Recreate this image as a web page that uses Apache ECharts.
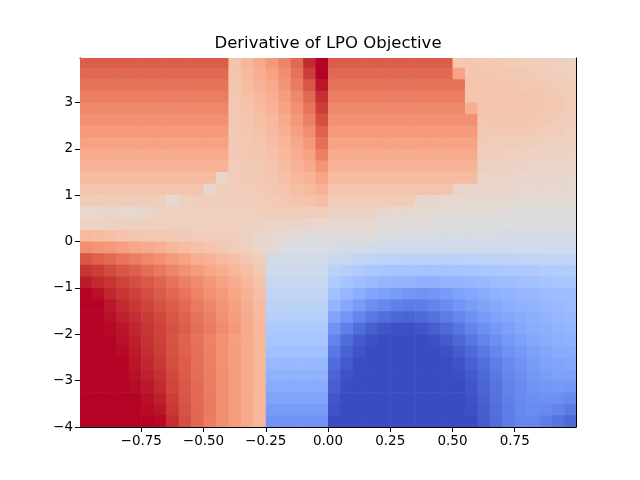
<!DOCTYPE html>
<html>
<head>
<meta charset="utf-8">
<script src="https://cdn.jsdelivr.net/npm/echarts@6/dist/echarts.min.js"></script>
<style>
  html, body { margin: 0; padding: 0; background: #fff; }
  #chart { width: 640px; height: 480px; }
</style>
</head>
<body>
<div id="chart"></div>
<script>
// cell edges of the sampled grid (x left->right, y top->bottom)
var xEdges = [-1, -0.95, -0.9, -0.85, -0.8, -0.75, -0.7, -0.65, -0.6, -0.55, -0.5,
              -0.45, -0.4, -0.35, -0.3, -0.25, -0.2, -0.15, -0.1, -0.05, 0,
              0.05, 0.1, 0.15, 0.2, 0.25, 0.3, 0.35, 0.4, 0.45, 0.5,
              0.55, 0.6, 0.65, 0.7, 0.75, 0.8, 0.85, 0.9, 0.95, 1];
var yEdges = [4, 3.75, 3.5, 3.25, 3, 2.75, 2.5, 2.25, 2, 1.75, 1.5, 1.25, 1, 0.75, 0.5, 0.25, 0,
              -0.25, -0.5, -0.75, -1, -1.25, -1.5, -1.75, -2, -2.25, -2.5, -2.75, -3, -3.25, -3.5, -3.75, -4];

var xTicks = [-0.75, -0.5, -0.25, 0, 0.25, 0.5, 0.75];
var yTicks = [-4, -3, -2, -1, 0, 1, 2, 3];

// derivative value per cell, 0 = most negative (blue), 10 = zero, 20 = most positive (red)
var rows = [
  [17.6,17.6,17.6,17.6,17.6,17.6,17.6,17.6,17.6,17.6,17.6,17.6, 12.6,13.4,14.2,15.0,16.0,17.2,19.3,20, 17.6,17.6,17.6,17.6,17.6,17.6,17.6,17.6,17.6,17.6, 12.3,12.3,12.2,12.1,12.0,11.9,11.8,11.7,11.5,11.3],
  [17.2,17.2,17.2,17.2,17.2,17.2,17.2,17.2,17.2,17.2,17.2,17.2, 12.5,13.2,13.9,14.6,15.6,16.8,18.7,20, 17.2,17.2,17.2,17.2,17.2,17.2,17.2,17.2,17.2,17.2, 14.5,12.4,12.3,12.3,12.2,12.1,12.0,11.9,11.7,11.5],
  [16.8,16.8,16.8,16.8,16.8,16.8,16.8,16.8,16.8,16.8,16.8,16.8, 12.4,13.0,13.6,14.2,15.2,16.4,17.9,19.7, 16.8,16.8,16.8,16.8,16.8,16.8,16.8,16.8,16.8,16.8,16.8, 12.5,12.5,12.5,12.4,12.3,12.2,12.1,11.9,11.7],
  [16.3,16.3,16.3,16.3,16.3,16.3,16.3,16.3,16.3,16.3,16.3,16.3, 12.3,12.8,13.3,13.9,14.8,15.9,17.2,19.2, 16.3,16.3,16.3,16.3,16.3,16.3,16.3,16.3,16.3,16.3,16.3, 12.5,12.5,12.5,12.5,12.5,12.4,12.3,12.1,11.9],
  [15.9,15.9,15.9,15.9,15.9,15.9,15.9,15.9,15.9,15.9,15.9,15.9, 12.2,12.6,13.1,13.6,14.5,15.5,16.7,18.7, 15.9,15.9,15.9,15.9,15.9,15.9,15.9,15.9,15.9,15.9,15.9, 14.0,12.5,12.5,12.5,12.5,12.4,12.3,12.1,11.9],
  [15.5,15.5,15.5,15.5,15.5,15.5,15.5,15.5,15.5,15.5,15.5,15.5, 12.2,12.5,12.9,13.3,14.1,15.1,16.2,18.2, 15.5,15.5,15.5,15.5,15.5,15.5,15.5,15.5,15.5,15.5,15.5,15.5, 12.3,12.4,12.4,12.4,12.3,12.2,12.0,11.8],
  [15.0,15.0,15.0,15.0,15.0,15.0,15.0,15.0,15.0,15.0,15.0,15.0, 12.1,12.4,12.7,13.1,13.8,14.7,15.6,17.5, 15.0,15.0,15.0,15.0,15.0,15.0,15.0,15.0,15.0,15.0,15.0,15.0, 12.2,12.2,12.2,12.1,12.0,11.9,11.8,11.6],
  [14.6,14.6,14.6,14.6,14.6,14.6,14.6,14.6,14.6,14.6,14.6,14.6, 12.0,12.3,12.5,12.9,13.5,14.3,15.1,16.9, 14.6,14.6,14.6,14.6,14.6,14.6,14.6,14.6,14.6,14.6,14.6,14.6, 12.0,11.9,11.9,11.8,11.7,11.6,11.5,11.4],
  [14.1,14.1,14.1,14.1,14.1,14.1,14.1,14.1,14.1,14.1,14.1,14.1, 12.0,12.2,12.4,12.7,13.3,14.0,14.6,16.2, 14.1,14.1,14.1,14.1,14.1,14.1,14.1,14.1,14.1,14.1,14.1,14.1, 11.8,11.7,11.6,11.5,11.4,11.4,11.3,11.2],
  [13.6,13.6,13.6,13.6,13.6,13.6,13.6,13.6,13.6,13.6,13.6,13.6, 11.9,12.1,12.2,12.5,13.0,13.6,14.1,15.3, 13.6,13.6,13.6,13.6,13.6,13.6,13.6,13.6,13.6,13.6,13.6,13.6, 11.5,11.4,11.3,11.3,11.2,11.1,11.1,11.0],
  [13.1,13.1,13.1,13.1,13.1,13.1,13.1,13.1,13.1,13.1,13.1,11.0, 11.9,12.0,12.1,12.4,12.8,13.3,13.6,14.5, 13.1,13.1,13.1,13.1,13.1,13.1,13.1,13.1,13.1,13.1,13.1,13.1, 11.2,11.1,11.1,11.0,11.0,10.9,10.9,10.8],
  [12.5,12.5,12.5,12.5,12.5,12.5,12.5,12.5,12.5,12.5,10.8,11.8, 11.8,11.9,12.0,12.2,12.5,12.9,13.2,13.7, 12.5,12.5,12.5,12.5,12.5,12.5,12.5,12.5,12.5,12.5, 11.1,11.0,11.0,10.9,10.9,10.8,10.8,10.7,10.7,10.6],
  [11.8,11.8,11.8,11.8,11.8,11.8,11.8,10.6,11.6,11.7,11.7,11.8, 11.7,11.8,11.9,12.0,12.2,12.5,12.6,12.9, 11.9,11.9,11.9,11.9,11.9,11.9,11.9, 10.9,10.9,10.8,10.8,10.7,10.7,10.6,10.6,10.5,10.5,10.4,10.4,10.4],
  [10.8,10.8,10.9,10.7,10.6,11.0,11.4,11.5,11.5,11.6,11.6,11.6, 11.6,11.6,11.7,11.7,11.8,11.9,11.8,11.8, 11.3,11.3,11.3,11.3,10.9, 10.6,10.6,10.5,10.5,10.4,10.4,10.3,10.3,10.2,10.2,10.1,10.1,10.0,10.0,10.0],
  [11.4,11.4,11.4,11.5,11.5,11.6,11.6,11.6,11.6,11.6,11.6,11.6, 11.5,11.4,11.3,11.2,11.2,11.1,10.9,10.8, 10.7,10.7,10.7,10.7, 10.3,10.3,10.2,10.2,10.1,10.1,10.0,10.0,9.9,9.9,9.9,9.8,9.8,9.8,9.8,9.8],
  [13.2,13.0,12.8,12.6,12.4,12.3,12.2,12.1,12.0,11.9,11.9,11.8, 11.8,11.4,11.0,10.7,10.5,10.2,10.1,10.0, 10.2,10.2,10.2,10.2, 9.7,9.7,9.6,9.6,9.6,9.5,9.5,9.5,9.5,9.5,9.4,9.4,9.4,9.4,9.4,9.4],
  [15.6,15.3,15.0,14.7,14.4,14.1,13.8,13.4,13.0,12.7,12.4,12.1,11.8,11.5,11.0, 10.6,10.0,9.6,9.6,9.6, 9.5,9.4,9.3,9.2,9.1,9.0,9.0,9.0,9.0,9.0,9.0,9.0,9.0,9.0,9.0,9.0,9.1,9.1,9.1,9.1],
  [17.9,17.5,17.1,16.7,16.3,15.9,15.5,15.0,14.5,14.0,13.6,13.2,12.8,12.3,11.7, 9.2,9.2,9.2,9.2,9.2, 8.6,8.4,8.2,8.0,7.9,7.8,7.7,7.7,7.7,7.7,7.7,7.8,7.8,7.9,7.9,8.0,8.0,8.1,8.1,8.1],
  [19.0,18.7,18.3,17.9,17.5,17.0,16.5,16.0,15.4,14.9,14.4,13.9,13.4,12.9,12.2, 8.9,8.9,8.9,8.9,8.9, 7.7,7.3,7.0,6.7,6.5,6.4,6.3,6.3,6.3,6.3,6.4,6.5,6.6,6.7,6.8,6.9,7.0,7.1,7.1,7.2],
  [19.6,19.3,19.0,18.6,18.2,17.8,17.3,16.8,16.2,15.7,15.1,14.6,14.0,13.4,12.6, 8.5,8.5,8.5,8.5,8.5, 6.9,6.4,6.0,5.7,5.4,5.3,5.2,5.1,5.1,5.2,5.3,5.4,5.6,5.8,5.9,6.1,6.2,6.4,6.5,6.6],
  [20,19.8,19.4,19.0,18.6,18.2,17.7,17.2,16.7,16.1,15.5,15.0,14.4,13.7,12.9, 8.1,8.1,8.1,8.1,8.1, 6.2,5.5,4.9,4.4,4.1,3.8,3.5,3.4,3.5,3.8,4.2,4.5,4.8,5.1,5.3,5.5,5.6,5.8,5.9,5.9],
  [20,20,19.7,19.3,18.9,18.5,18.1,17.6,17.1,16.5,15.9,15.3,14.7,14.0,13.1, 7.7,7.7,7.7,7.7,7.7, 5.4,4.6,3.8,3.2,2.8,2.4,2.2,2.3,2.6,3.0,3.5,3.9,4.3,4.6,4.9,5.1,5.3,5.5,5.7,5.8],
  [20,20,19.8,19.5,19.2,18.8,18.4,17.9,17.4,16.8,16.2,15.5,14.8,14.1,13.2, 7.3,7.3,7.3,7.3,7.3, 4.4,3.5,2.7,2.0,1.6,1.2,1.1,1.3,1.7,2.2,2.7,3.3,3.8,4.2,4.5,4.8,5.0,5.3,5.5,5.6],
  [20,20,19.9,19.7,19.4,19.0,18.6,18.1,17.6,17.0,16.4,15.7,15.0,14.2,13.4, 6.9,6.9,6.9,6.9,6.9, 3.4,2.4,1.5,0.8,0.4,0.2,0.2,0.4,0.8,1.3,1.9,2.6,3.2,3.7,4.1,4.5,4.8,5.0,5.3,5.4],
  [20,20,20,19.8,19.5,19.1,18.6,18.0,17.4,16.8,16.1,15.4,14.7,14.1,13.4, 6.5,6.5,6.5,6.5,6.5, 2.6,1.5,0.7,0.2,0,0,0,0,0.2,0.6,1.2,1.9,2.6,3.2,3.7,4.1,4.5,4.8,5.0,5.1],
  [20,20,20,19.9,19.6,19.2,18.7,18.1,17.5,16.9,16.2,15.5,14.8,14.1,13.4, 6.1,6.1,6.1,6.1,6.1, 2.0,1.0,0.3,0,0,0,0,0,0,0.2,0.7,1.3,2.0,2.7,3.3,3.7,4.1,4.5,4.7,4.8],
  [20,20,20,20,19.7,19.4,18.9,18.2,17.6,16.9,16.2,15.5,14.8,14.1,13.4, 5.6,5.6,5.6,5.6,5.6, 1.5,0.6,0,0,0,0,0,0,0,0,0.3,0.9,1.6,2.3,2.9,3.4,3.8,4.2,4.4,4.5],
  [20,20,20,20,19.8,19.5,19.1,18.4,17.7,17.0,16.3,15.6,14.8,14.1,13.4, 5.2,5.2,5.2,5.2,5.2, 1.1,0.3,0,0,0,0,0,0,0,0,0.1,0.6,1.3,2.0,2.7,3.2,3.6,3.9,4.1,4.1],
  [20,20,20,20,19.9,19.7,19.3,18.5,17.8,17.1,16.3,15.6,14.9,14.1,13.4, 4.7,4.7,4.7,4.7,4.7, 0.8,0.1,0,0,0,0,0,0,0,0,0,0.4,1.1,1.8,2.5,3.0,3.4,3.6,3.7,3.6],
  [20,20,20,20,20,19.8,19.5,18.7,17.9,17.1,16.4,15.6,14.9,14.2,13.4, 4.3,4.3,4.3,4.3,4.3, 0.5,0,0,0,0,0,0,0,0,0,0,0.3,0.9,1.7,2.4,2.9,3.2,3.3,3.2,2.9],
  [20,20,20,20,20,19.9,19.7,18.9,18.0,17.2,16.4,15.6,14.9,14.2,13.4, 3.8,3.8,3.8,3.8,3.8, 0.3,0,0,0,0,0,0,0,0,0,0,0.2,0.8,1.6,2.3,2.8,3.0,2.9,2.6,2.1],
  [20,20,20,20,20,20,19.9,19.2,18.2,17.2,16.3,15.6,14.9,14.2,13.4, 3.4,3.4,3.4,3.4,3.4, 0,0,0,0,0,0,0,0,0,0,0,0,0.7,1.5,2.2,2.7,2.7,2.3,1.8,1.3]
];

var coolwarm = ['#3b4cc0','#445acc','#4d68d7','#5775e1','#6282ea','#6c8ef1','#779af7','#82a5fb',
                '#8db0fe','#98b9ff','#a3c2ff','#aec9fd','#b8d0f9','#c2d5f4','#ccd9ee','#d5dbe6',
                '#dddddd','#e5d8d1','#ecd3c5','#f1ccb9','#f5c4ad','#f7bba0','#f7b194','#f7a687',
                '#f49a7b','#f18d6f','#ec7f63','#e57058','#de604d','#d55042','#cb3e38','#c0282f','#b40426'];

var cells = [];
for (var r = 0; r < rows.length; r++) {
    for (var c = 0; c < rows[r].length; c++) {
        cells.push([xEdges[c], xEdges[c + 1], yEdges[r + 1], yEdges[r], rows[r][c]]);
    }
}

function minusFmt(v, digits) {
    return v.toFixed(digits).replace('-', '\u2212');
}

var chart = echarts.init(document.getElementById('chart'));
var font = 'DejaVu Sans';
var black = { color: '#000', width: 1 };

chart.setOption({
    animation: false,
    title: {
        text: 'Derivative of LPO Objective',
        left: 323,
        top: 30,
        textAlign: 'center',
        textStyle: { fontFamily: font, fontSize: 16.5, fontWeight: 'normal', color: '#000' }
    },
    grid: { left: 80, right: 64, top: 58, bottom: 53 },
    visualMap: {
        show: false,
        type: 'continuous',
        min: 0,
        max: 20,
        dimension: 4,
        seriesIndex: 0,
        inRange: { color: coolwarm }
    },
    xAxis: [{
        type: 'value',
        min: -0.996,
        max: 0.996,
        position: 'bottom',
        axisLine: { show: true, onZero: false, lineStyle: black },
        axisTick: { show: true, length: 5, customValues: xTicks, lineStyle: black },
        axisLabel: {
            customValues: xTicks,
            margin: 7,
            color: '#000',
            fontFamily: font,
            fontSize: 13.5,
            formatter: function (v) { return minusFmt(v, 2); }
        },
        splitLine: { show: false }
    }, {
        type: 'value',
        min: -0.996,
        max: 0.996,
        position: 'top',
        axisLine: { show: true, onZero: false, lineStyle: black },
        axisTick: { show: false },
        axisLabel: { show: false },
        splitLine: { show: false }
    }],
    yAxis: [{
        type: 'value',
        min: -4,
        max: 3.96,
        position: 'left',
        axisLine: { show: true, onZero: false, lineStyle: black },
        axisTick: { show: true, length: 5, customValues: yTicks, lineStyle: black },
        axisLabel: {
            customValues: yTicks,
            margin: 7,
            color: '#000',
            fontFamily: font,
            fontSize: 13.5,
            formatter: function (v) { return minusFmt(v, 0); }
        },
        splitLine: { show: false }
    }, {
        type: 'value',
        min: -4,
        max: 3.96,
        position: 'right',
        axisLine: { show: true, onZero: false, lineStyle: black },
        axisTick: { show: false },
        axisLabel: { show: false },
        splitLine: { show: false }
    }],
    series: [{
        type: 'custom',
        clip: true,
        encode: { x: [0, 1], y: [2, 3] },
        data: cells,
        z: 1,
        renderItem: function (params, api) {
            var p0 = api.coord([api.value(0), api.value(3)]);
            var p1 = api.coord([api.value(1), api.value(2)]);
            return {
                type: 'rect',
                shape: { x: p0[0], y: p0[1], width: p1[0] - p0[0] + 0.6, height: p1[1] - p0[1] + 0.6 },
                style: { fill: api.visual('color') }
            };
        }
    }]
});
</script>
</body>
</html>
